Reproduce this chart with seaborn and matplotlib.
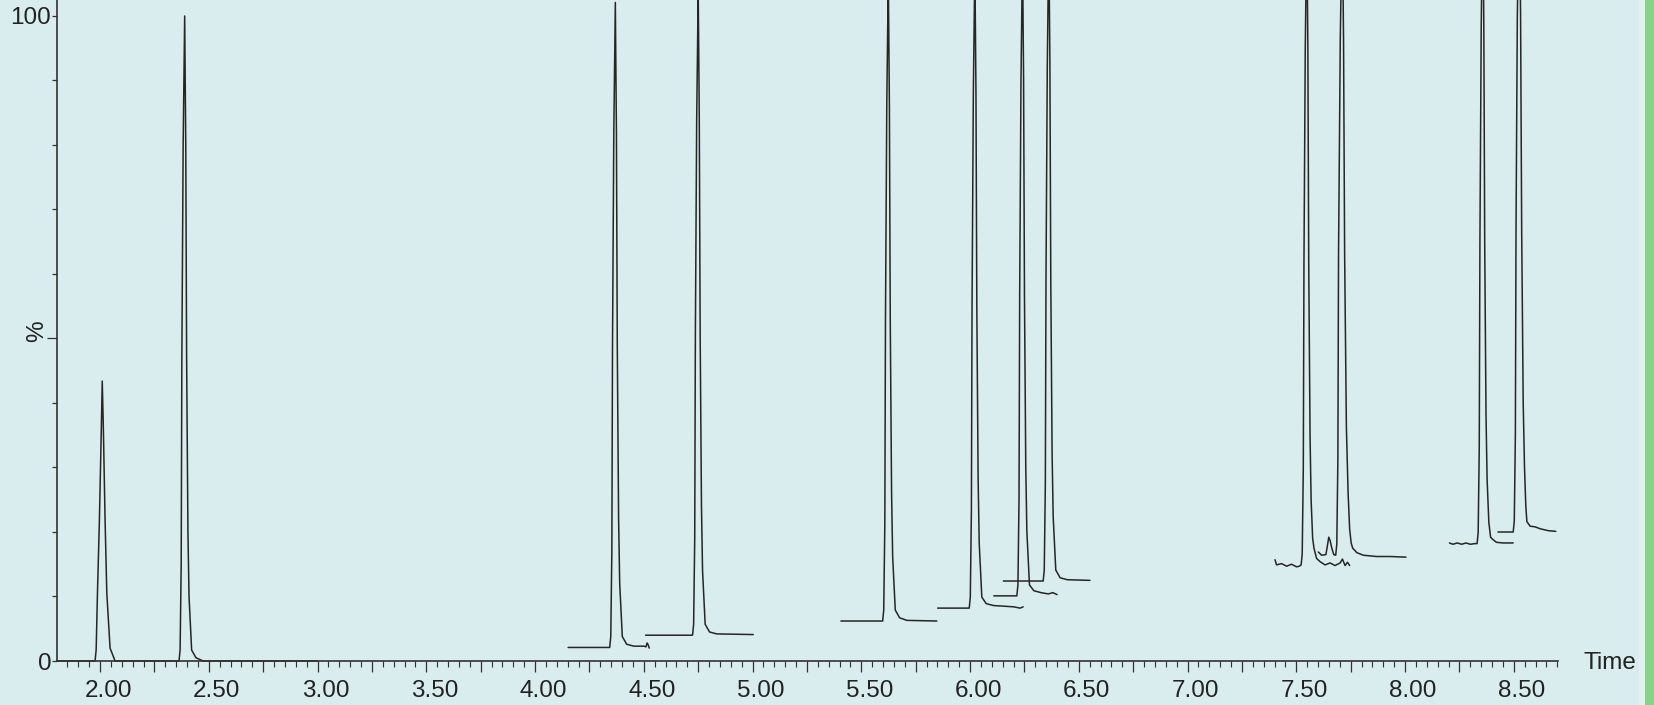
import matplotlib
matplotlib.use("Agg")
import matplotlib.pyplot as plt
import seaborn as sns
import pandas as pd
from matplotlib.ticker import FixedLocator, FixedFormatter, MultipleLocator
from matplotlib.transforms import ScaledTranslation
from matplotlib.patches import Rectangle

# ---------------- data (time in min, intensity in %) ----------------
t_a = [1.800, 1.977, 1.982, 1.988, 1.997, 2.006, 2.010, 2.015, 2.023, 2.031, 2.046, 2.069,
       2.363, 2.368, 2.373, 2.376, 2.382, 2.389, 2.394, 2.398, 2.404, 2.409, 2.421, 2.441, 2.474, 3.000]
y_a = [0, 0, 1.7, 10.5, 21.9, 36.3, 43.4, 36.3, 21.9, 10.5, 2.0, 0,
       0, 1.7, 15.0, 46.7, 80.0, 100.0, 80.0, 46.7, 20.0, 10.0, 1.7, 0.5, 0, 0]

t_b = [4.152, 4.343, 4.348, 4.353, 4.356, 4.362, 4.369, 4.374, 4.378, 4.384, 4.389, 4.401, 4.421,
       4.454, 4.500, 4.510, 4.515, 4.520, 4.525]
y_b = [2.1, 2.1, 3.8, 17.1, 48.8, 82.1, 102.1, 82.1, 48.8, 22.1, 12.1, 3.8, 2.6,
       2.3, 2.3, 2.2, 2.8, 2.5, 2.0]

t_c = [4.508, 4.724, 4.729, 4.734, 4.737, 4.743, 4.750, 4.755, 4.759, 4.765, 4.770, 4.782, 4.802, 4.835, 5.003]
y_c = [4.0, 4.0, 5.7, 19.0, 50.7, 84.0, 104.0, 84.0, 50.7, 24.0, 14.0, 5.7, 4.5, 4.2, 4.1]

t_d = [5.406, 5.598, 5.603, 5.608, 5.611, 5.617, 5.624, 5.629, 5.633, 5.639, 5.644, 5.656, 5.676, 5.709, 5.847]
y_d = [6.2, 6.2, 7.9, 21.2, 52.9, 86.2, 106.2, 86.2, 52.9, 26.2, 16.2, 7.9, 6.7, 6.3, 6.2]

t_e = [5.851, 5.996, 6.001, 6.006, 6.009, 6.015, 6.022, 6.027, 6.031, 6.037, 6.042, 6.054, 6.074,
       6.107, 6.200, 6.230, 6.244]
y_e = [8.2, 8.2, 9.9, 23.2, 54.9, 88.2, 108.2, 88.2, 54.9, 28.2, 18.2, 9.9, 8.9,
       8.6, 8.4, 8.2, 8.4]

t_f = [6.109, 6.215, 6.220, 6.225, 6.228, 6.234, 6.241, 6.246, 6.250, 6.256, 6.261, 6.273, 6.293,
       6.326, 6.360, 6.380, 6.400]
y_f = [10.1, 10.1, 11.8, 25.1, 56.8, 90.1, 110.1, 90.1, 56.8, 30.1, 20.1, 11.8, 10.9,
       10.6, 10.4, 10.6, 10.3]

t_g = [6.153, 6.336, 6.341, 6.346, 6.349, 6.355, 6.362, 6.367, 6.371, 6.377, 6.382, 6.394, 6.414, 6.447, 6.551]
y_g = [12.4, 12.4, 14.1, 27.4, 59.1, 92.4, 112.4, 92.4, 59.1, 32.4, 22.4, 14.1, 12.9, 12.6, 12.5]

t_h = [7.402, 7.409, 7.432, 7.455, 7.478, 7.501, 7.514, 7.522, 7.527, 7.532, 7.535, 7.541, 7.548,
       7.553, 7.557, 7.563, 7.568, 7.575, 7.581, 7.593, 7.609, 7.632, 7.655, 7.678, 7.701, 7.712,
       7.724, 7.735, 7.745]
y_h = [15.7, 14.9, 15.1, 14.7, 15.0, 14.6, 14.7, 14.9, 16.6, 29.9, 61.6, 94.9, 114.9,
       94.9, 61.6, 34.9, 24.9, 19.0, 17.5, 15.9, 15.4, 14.9, 15.2, 14.8, 15.2, 15.8,
       14.8, 15.3, 14.8]

t_i = [7.601, 7.616, 7.636, 7.643, 7.649, 7.655, 7.663, 7.672, 7.681, 7.686, 7.691, 7.694, 7.702,
       7.711, 7.717, 7.722, 7.730, 7.738, 7.745, 7.752, 7.759, 7.778, 7.808, 7.869, 7.931, 8.004]
y_i = [16.9, 16.4, 16.5, 17.9, 19.2, 18.7, 17.5, 16.5, 16.4, 18.1, 31.4, 63.1, 96.4,
       116.4, 96.4, 63.1, 36.4, 26.0, 20.5, 18.3, 17.5, 16.8, 16.4, 16.2, 16.2, 16.1]

t_j = [8.204, 8.220, 8.240, 8.260, 8.280, 8.300, 8.320, 8.331, 8.336, 8.341, 8.344, 8.350, 8.357,
       8.362, 8.366, 8.372, 8.377, 8.385, 8.393, 8.405, 8.420, 8.451, 8.497]
y_j = [18.3, 18.1, 18.3, 18.1, 18.3, 18.1, 18.2, 18.2, 19.9, 33.2, 64.9, 98.2, 118.2,
       98.2, 64.9, 38.2, 28.2, 21.5, 19.2, 18.8, 18.4, 18.3, 18.3]

t_k = [8.427, 8.497, 8.502, 8.507, 8.510, 8.516, 8.525, 8.531, 8.536, 8.543, 8.549, 8.555, 8.560,
       8.575, 8.598, 8.621, 8.659, 8.693]
y_k = [20.0, 20.0, 21.7, 35.0, 66.7, 100.0, 120.0, 100.0, 66.7, 40.0, 30.0, 24.0, 21.6,
       20.9, 20.8, 20.5, 20.2, 20.1]

trace_ids = ["A", "B", "C", "D", "E", "F", "G", "H", "I", "J", "K"]
trace_t = [t_a, t_b, t_c, t_d, t_e, t_f, t_g, t_h, t_i, t_j, t_k]
trace_y = [y_a, y_b, y_c, y_d, y_e, y_f, y_g, y_h, y_i, y_j, y_k]

x_major = [2.00, 2.25, 2.50, 2.75, 3.00, 3.25, 3.50, 3.75, 4.00, 4.25, 4.50, 4.75, 5.00,
           5.25, 5.50, 5.75, 6.00, 6.25, 6.50, 6.75, 7.00, 7.25, 7.50, 7.75, 8.00, 8.25, 8.50]
x_labels = ["2.00", "", "2.50", "", "3.00", "", "3.50", "", "4.00", "", "4.50", "", "5.00",
            "", "5.50", "", "6.00", "", "6.50", "", "7.00", "", "7.50", "", "8.00", "", "8.50"]
y_major = [0, 10, 20, 30, 40, 60, 70, 80, 90, 100]
y_labels = ["0", "", "", "", "", "", "", "", "", "100"]

df = pd.concat(
    [pd.DataFrame({"time": t, "pct": y, "trace": n}) for n, t, y in zip(trace_ids, trace_t, trace_y)],
    ignore_index=True,
)

# ---------------- styling ----------------
BG = "#D9ECEE"
LINE = "#262626"
AX = "#333333"

sns.set_theme(style="ticks")
plt.rcParams["font.family"] = ["Liberation Sans", "DejaVu Sans"]

W, H = 1654, 705
fig = plt.figure(figsize=(W / 100, H / 100), dpi=100, facecolor=BG)
ax = fig.add_axes([57 / W, 44 / H, 1501 / W, 661 / H])
ax.set_facecolor(BG)

sns.lineplot(data=df, x="time", y="pct", units="trace", estimator=None, sort=False,
             color=LINE, linewidth=1.1, ax=ax)
for ln in ax.lines:
    ln.set_clip_on(False)

ax.set_xlim(1.802, 8.703)
ax.set_ylim(0, 102.48)

for s in ["top", "right"]:
    ax.spines[s].set_visible(False)
for s in ["left", "bottom"]:
    ax.spines[s].set_color(AX)
    ax.spines[s].set_linewidth(1.2)

ax.xaxis.set_major_locator(FixedLocator(x_major))
ax.xaxis.set_major_formatter(FixedFormatter(x_labels))
ax.xaxis.set_minor_locator(MultipleLocator(0.05))
ax.yaxis.set_major_locator(FixedLocator(y_major))
ax.yaxis.set_major_formatter(FixedFormatter(y_labels))
ax.yaxis.set_minor_locator(FixedLocator([50]))

ax.tick_params(axis="x", which="major", length=7.9, width=0.9, color=AX,
               labelsize=17.5, labelcolor="#222222", pad=6.0)
ax.tick_params(axis="x", which="minor", length=4.3, width=0.8, color=AX)
ax.tick_params(axis="y", which="major", length=3.6, width=0.9, color=AX,
               labelsize=17.5, labelcolor="#222222", pad=0.5)
ax.tick_params(axis="y", which="minor", length=7.2, width=0.9, color=AX)

ax.set_xlabel("")
ax.set_ylabel("")
ax.annotate("%", xy=(0, 50), xycoords=("axes fraction", "data"), xytext=(-20, 7),
            textcoords="offset pixels", rotation=90, ha="center", va="center",
            fontsize=17.5, color="#222222")
ax.annotate("Time", xy=(1, 0), xycoords="axes fraction", xytext=(25, -2),
            textcoords="offset pixels", ha="left", va="center",
            fontsize=17.5, color="#222222")

# right-hand green bar of the instrument window
fig.patches.append(Rectangle((1639 / W, 0), 6 / W, 1, transform=fig.transFigure,
                             facecolor="#E2F1EF", edgecolor="none"))
fig.patches.append(Rectangle((1645 / W, 0), 9 / W, 1, transform=fig.transFigure,
                             facecolor="#86D389", edgecolor="none"))

fig.canvas.draw()
shift = ScaledTranslation(8 / 100, 0, fig.dpi_scale_trans)
for lab in ax.xaxis.get_majorticklabels():
    lab.set_transform(lab.get_transform() + shift)

fig.savefig("out.png", dpi=100, facecolor=BG)
